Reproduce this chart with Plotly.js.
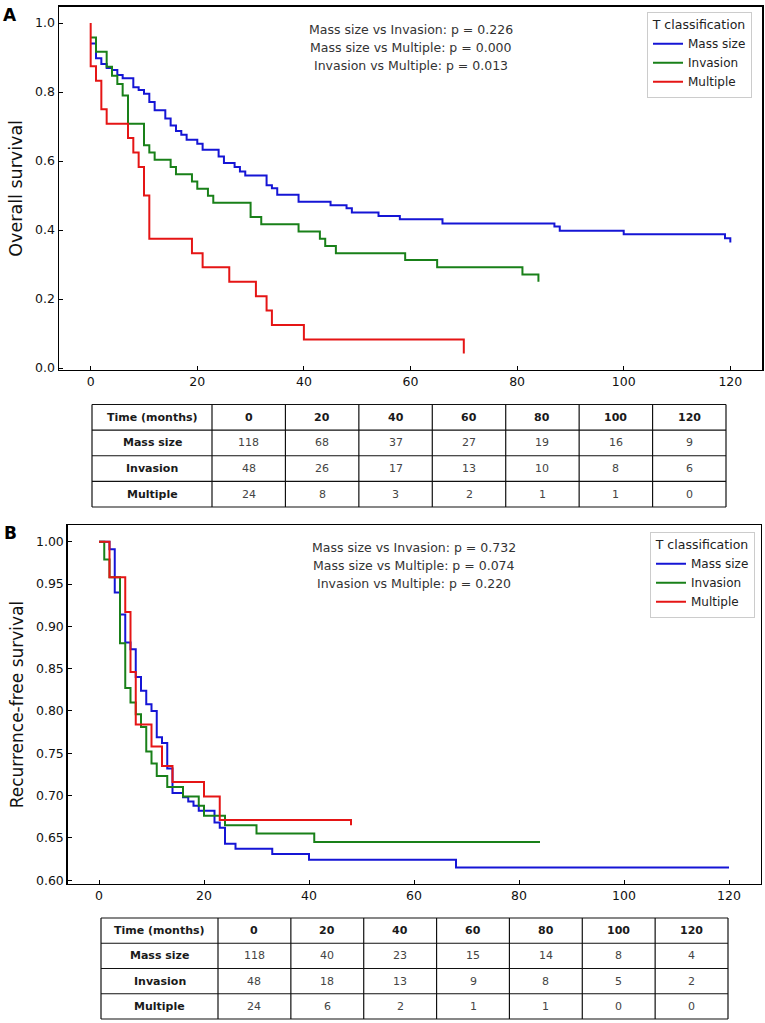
<!DOCTYPE html>
<html><head><meta charset="utf-8">
<script src="https://cdn.plot.ly/plotly-3.0.1.min.js"></script>
<style>html,body{margin:0;padding:0;background:#fff}#chart{width:765px;height:1023px}</style>
</head><body><div id="chart"></div>
<script>
const groups = ['Mass size', 'Invasion', 'Multiple'];
const colors = ['#1515d5', '#198019', '#e51515'];
const riskTimes = [0, 20, 40, 60, 80, 100, 120];
const comparisons = ['Mass size vs Invasion', 'Mass size vs Multiple', 'Invasion vs Multiple'];

// Overall survival, step curves (time in months, survival probability)
const osMassTime = [0,1,2,3,4,5,6,8,9,10,11,12,14,15,16,17,18,20,21,24,25,27,28,29,33,34,35,39,45,48,49,54,58,66,87,88,100,119,120];
const osMassSurv = [0.941,0.898,0.881,0.870,0.864,0.849,0.840,0.814,0.806,0.795,0.771,0.747,0.723,0.703,0.687,0.676,0.662,0.650,0.633,0.613,0.594,0.583,0.570,0.558,0.530,0.521,0.502,0.482,0.472,0.463,0.451,0.441,0.431,0.419,0.410,0.398,0.388,0.376,0.364];
const osInvTime = [0,1,3,4,5,6,7,10,11,12,15,16,19,20,22,23,30,32,39,43,44,46,59,65,81,84];
const osInvSurv = [0.958,0.917,0.873,0.847,0.823,0.790,0.708,0.646,0.625,0.604,0.583,0.562,0.541,0.520,0.499,0.479,0.438,0.417,0.396,0.375,0.354,0.333,0.313,0.292,0.271,0.250];
const osMultTime = [0,0,1,2,3,7,8,9,10,11,19,21,26,31,33,34,40,70];
const osMultSurv = [1.0,0.875,0.833,0.750,0.708,0.667,0.625,0.583,0.500,0.375,0.333,0.292,0.250,0.208,0.167,0.125,0.083,0.042];
const osPValues = ['0.226', '0.000', '0.013'];
const osRiskMass = [118, 68, 37, 27, 19, 16, 9];
const osRiskInv = [48, 26, 17, 13, 10, 8, 6];
const osRiskMult = [24, 8, 3, 2, 1, 1, 0];

// Recurrence-free survival
const rfsMassTime = [0,2,3,4,5,6,7,8,9,10,11,12,13,14,16,17,18,19,22,23,24,26,33,40,68,120];
const rfsMassSurv = [1.0,0.991,0.940,0.914,0.881,0.873,0.840,0.824,0.808,0.800,0.769,0.762,0.732,0.703,0.698,0.693,0.688,0.682,0.668,0.662,0.643,0.637,0.631,0.624,0.615,0.615];
const rfsInvTime = [0,1,2,4,5,6,7,8,9,10,11,13,16,19,20,24,30,41,84];
const rfsInvSurv = [1.0,0.979,0.958,0.880,0.827,0.810,0.796,0.781,0.752,0.738,0.723,0.710,0.699,0.688,0.676,0.665,0.655,0.645,0.645];
const rfsMultTime = [0,2,5,6,7,10,12,14,20,23,48];
const rfsMultSurv = [1.0,0.958,0.917,0.846,0.784,0.758,0.735,0.716,0.699,0.671,0.665];
const rfsPValues = ['0.732', '0.074', '0.220'];
const rfsRiskMass = [118, 40, 23, 15, 14, 8, 4];
const rfsRiskInv = [48, 18, 13, 9, 8, 5, 2];
const rfsRiskMult = [24, 6, 2, 1, 1, 0, 0];

const W = 765, H = 1023;
const FONT = 'DejaVu Sans, Verdana, sans-serif';
const px = v => v / W;
const py = v => 1 - v / H;

function curve(t, s, i, xa, ya, leg) {
  return {
    type: 'scatter', mode: 'lines', x: t, y: s, name: groups[i],
    xaxis: xa, yaxis: ya, legend: leg,
    line: {shape: 'hv', color: colors[i], width: 2}, hoverinfo: 'skip'
  };
}

const traces = [
  curve(osMassTime, osMassSurv, 0, 'x', 'y', 'legend'),
  curve(osInvTime, osInvSurv, 1, 'x', 'y', 'legend'),
  curve(osMultTime, osMultSurv, 2, 'x', 'y', 'legend'),
  curve(rfsMassTime, rfsMassSurv, 0, 'x2', 'y2', 'legend2'),
  curve(rfsInvTime, rfsInvSurv, 1, 'x2', 'y2', 'legend2'),
  curve(rfsMultTime, rfsMultSurv, 2, 'x2', 'y2', 'legend2')
];

const shapes = [];
const annotations = [];

// Number-at-risk table drawn as a grid of paper-space lines and centred labels
function riskTable(left, right, top, bottom, firstW, rows) {
  const nCols = riskTimes.length;
  const colW = (right - left - firstW) / nCols;
  const rowH = (bottom - top) / (rows.length + 1);
  const edges = [left, left + firstW];
  for (let k = 1; k <= nCols; k++) edges.push(left + firstW + k * colW);
  const line = {color: '#111', width: 1.2};
  edges.forEach(x => shapes.push({type: 'line', xref: 'paper', yref: 'paper',
    x0: px(x), x1: px(x), y0: py(top), y1: py(bottom), line: line}));
  for (let r = 0; r <= rows.length + 1; r++) {
    const y = top + r * rowH;
    shapes.push({type: 'line', xref: 'paper', yref: 'paper',
      x0: px(left), x1: px(right), y0: py(y), y1: py(y), line: line});
  }
  const cell = (text, c, r, bold) => annotations.push({
    text: bold ? '<b>' + text + '</b>' : text, xref: 'paper', yref: 'paper',
    x: px((edges[c] + edges[c + 1]) / 2), y: py(top + (r + 0.5) * rowH),
    xanchor: 'center', yanchor: 'middle', showarrow: false,
    font: {family: FONT, size: 11, color: bold ? '#1a1a1a' : '#444'}
  });
  cell('Time (months)', 0, 0, true);
  riskTimes.forEach((t, k) => cell(String(t), k + 1, 0, true));
  rows.forEach((vals, r) => {
    cell(groups[r], 0, r + 1, true);
    vals.forEach((v, k) => cell(String(v), k + 1, r + 1, false));
  });
}
riskTable(92, 726, 404.5, 507, 120, [osRiskMass, osRiskInv, osRiskMult]);
riskTable(101, 728, 918, 1019, 117, [rfsRiskMass, rfsRiskInv, rfsRiskMult]);

comparisons.forEach((c, i) => {
  annotations.push({text: c + ': p = ' + osPValues[i], xref: 'x domain', yref: 'y domain', x: 0.5, y: 1,
    yanchor: 'middle', yshift: -(23 + 18 * i), showarrow: false, font: {family: FONT, size: 12.5, color: '#333'}});
  annotations.push({text: c + ': p = ' + rfsPValues[i], xref: 'x2 domain', yref: 'y2 domain', x: 0.5, y: 1,
    yanchor: 'middle', yshift: -(22 + 18 * i), showarrow: false, font: {family: FONT, size: 12.5, color: '#333'}});
});
[['A', 15], ['B', 533]].forEach(([l, y]) => annotations.push({
  text: '<b>' + l + '</b>', xref: 'paper', yref: 'paper', x: px(10), y: py(y),
  xanchor: 'center', yanchor: 'middle', showarrow: false, font: {family: FONT, size: 17, color: '#000'}
}));

const axisBase = {
  showgrid: false, zeroline: false, showline: true, mirror: true,
  linecolor: '#000', linewidth: 1.2, ticks: 'inside', ticklen: 4, tickwidth: 1,
  tickcolor: '#000', tickfont: {family: FONT, size: 12.5, color: '#111'}
};
const xTicks = {tickmode: 'array', tickvals: riskTimes, ticktext: riskTimes.map(String)};

const legendBase = {
  xanchor: 'right', yanchor: 'top', bgcolor: 'rgba(255,255,255,0.9)',
  bordercolor: '#cccccc', borderwidth: 1,
  font: {family: FONT, size: 12, color: '#222'},
  title: {text: 'T classification', side: 'top center', font: {family: FONT, size: 12.5, color: '#222'}},
  tracegroupgap: 0, itemwidth: 30
};

const layout = {
  width: W, height: H, margin: {l: 0, r: 0, t: 0, b: 0},
  paper_bgcolor: '#fff', plot_bgcolor: '#fff',
  xaxis: Object.assign({}, axisBase, xTicks, {domain: [px(58.7), px(762.3)], range: [-6, 126], anchor: 'y'}),
  yaxis: Object.assign({}, axisBase, {domain: [py(370.2), py(6.5)], range: [-0.0063, 1.0479], anchor: 'x',
    tickmode: 'array', tickvals: [0, 0.2, 0.4, 0.6, 0.8, 1.0], tickformat: '.1f',
    title: {text: 'Overall survival', font: {family: FONT, size: 17.5, color: '#111'}, standoff: 8}}),
  xaxis2: Object.assign({}, axisBase, xTicks, {domain: [px(67.5), px(760.5)], range: [-6, 126], anchor: 'y2'}),
  yaxis2: Object.assign({}, axisBase, {domain: [py(883.7), py(525.4)], range: [0.5958, 1.0193], anchor: 'x2',
    tickmode: 'array', tickvals: [0.60, 0.65, 0.70, 0.75, 0.80, 0.85, 0.90, 0.95, 1.00], tickformat: '.2f',
    title: {text: 'Recurrence-free survival', font: {family: FONT, size: 17, color: '#111'}, standoff: 8}}),
  legend: Object.assign({}, legendBase, {x: px(752), y: py(12)}),
  legend2: Object.assign({}, legendBase, {x: px(755), y: py(532)}),
  shapes: shapes,
  annotations: annotations
};

Plotly.newPlot('chart', traces, layout, {displayModeBar: false, staticPlot: true});
</script>
</body></html>
